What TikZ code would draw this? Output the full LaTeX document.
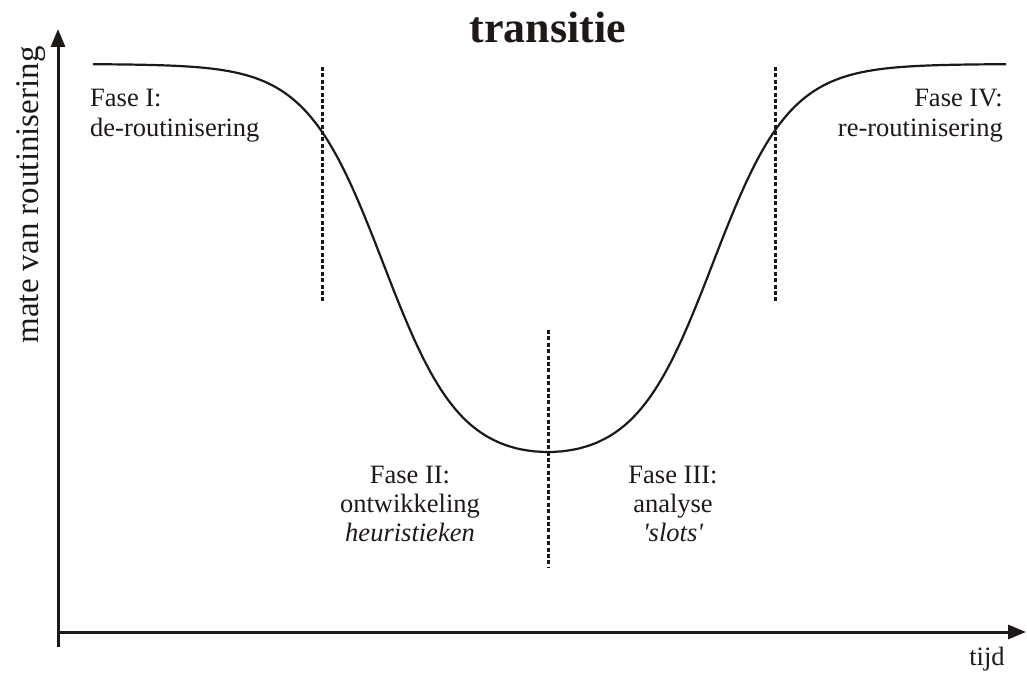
\documentclass[tikz,border=0pt]{standalone}
\usepackage{fontspec}
\setmainfont{Liberation Serif}
\newfontfamily\plainquotes{Liberation Serif}[Ligatures=TeXOff]
\usetikzlibrary{arrows.meta}
\begin{document}
\begin{tikzpicture}[x=1pt,y=-1pt,
  axis/.style={line width=3pt,draw={rgb,255:red,30;green,24;blue,22},-{Triangle[length=18pt,width=14pt]}},
  curve/.style={line width=2.2pt,draw={rgb,255:red,30;green,24;blue,22}},
  divider/.style={line width=3pt,draw={rgb,255:red,30;green,24;blue,22},dash pattern=on 4pt off 2.4pt},
  lbl/.style={inner sep=0pt,text={rgb,255:red,30;green,24;blue,22},font=\fontsize{26.5}{30}\selectfont},
  ttl/.style={inner sep=0pt,text={rgb,255:red,30;green,24;blue,22},font=\fontsize{44}{50}\selectfont\bfseries}]
\useasboundingbox (0,0) rectangle (1027,679);
% axes
\coordinate (ybot) at (58,647);
\coordinate (ytip) at (58,29);
\coordinate (xorg) at (58,632);
\coordinate (xtip) at (1026,632);
\draw[axis] (ybot) -- (ytip);
\draw[axis] (xorg) -- (xtip);
% curve
\draw[curve] plot[domain=93:1006,samples=300,smooth]
  (\x,{64+399*(1/(1+exp((\x-548-164.8)/38.6))+1/(1+exp((548-\x-164.8)/38.6))-1)});
% dividers
\coordinate (d1t) at (322,67); \coordinate (d1b) at (322,302);
\coordinate (d2t) at (548,330); \coordinate (d2b) at (548,567);
\coordinate (d3t) at (775,67); \coordinate (d3b) at (775,302);
\draw[divider] (d1t) -- (d1b);
\draw[divider] (d2t) -- (d2b);
\draw[divider] (d3t) -- (d3b);
% labels
\node[ttl,anchor=base] (title) at (548,43) {transitie};
\node[lbl,anchor=base,rotate=90,font=\fontsize{33}{38}\selectfont] (ylab) at (38,195) {mate van routinisering};
\node[lbl,anchor=base] (xlab) at (987,665) {tijd};
\node[lbl,anchor=base west] (f1a) at (90,107) {Fase I:};
\node[lbl,anchor=base west] (f1b) at (90,137) {de-routinisering};
\node[lbl,anchor=base east] (f4a) at (1003,107) {Fase IV:};
\node[lbl,anchor=base east] (f4b) at (1003,137) {re-routinisering};
\node[lbl,anchor=base] (f2a) at (410,483) {Fase II:};
\node[lbl,anchor=base] (f2b) at (410,512) {ontwikkeling};
\node[lbl,anchor=base] (f2c) at (410,541) {\itshape heuristieken};
\node[lbl,anchor=base] (f3a) at (673,483) {Fase III:};
\node[lbl,anchor=base] (f3b) at (673,512) {analyse};
\node[lbl,anchor=base] (f3c) at (673,541) {\plainquotes\itshape 'slots'};
\end{tikzpicture}
\end{document}
